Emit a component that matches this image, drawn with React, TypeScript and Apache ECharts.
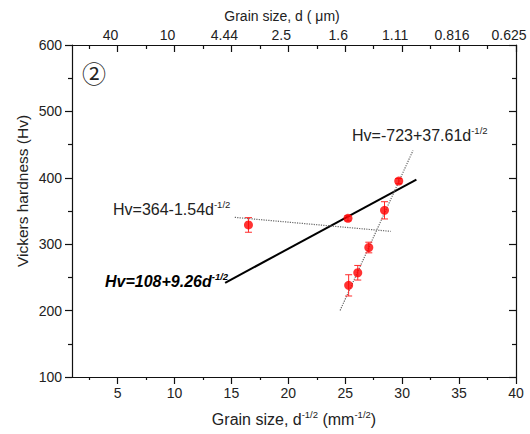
import React, { useEffect, useRef } from "react";
import * as echarts from "echarts";

// Measured hardness vs. grain size (d^-1/2 in mm^-1/2)
const grainSize = [16.5, 25.24, 25.3, 26.1, 27.07, 28.45, 29.7];
const hardness = [329, 339, 238, 257, 295, 351, 395];
const hardnessErr = [11, 4, 16, 11, 8, 13, 4];

// Hall-Petch fits: Hv = intercept + slope * d^-1/2, drawn over [start, end]
const fitIntercepts = [108, 364, -723];
const fitSlopes = [9.26, -1.54, 37.61];
const fitStart = [14.45, 15.3, 24.55];
const fitEnd = [31.25, 29.0, 30.95];

// Axis ticks
const majorTicks = [5, 10, 15, 20, 25, 30, 35, 40];
const minorTicks = [2.5, 7.5, 12.5, 17.5, 22.5, 27.5, 32.5, 37.5];
const topTickLabels = ["40", "10", "4.44", "2.5", "1.6", "1.11", "0.816", "0.625"];

const FONT = "'Liberation Sans', Arial, sans-serif";
const TEXT = "#222";
const AXIS = "#111";

function fitLine(i: number) {
  const a = fitIntercepts[i];
  const b = fitSlopes[i];
  return [
    [fitStart[i], a + b * fitStart[i]],
    [fitEnd[i], a + b * fitEnd[i]],
  ];
}

export default function App() {
  const ref = useRef<HTMLDivElement>(null);

  useEffect(() => {
    if (!ref.current) return;
    const chart = echarts.init(ref.current, null, { renderer: "svg" });

    const baseX = {
      type: "value" as const,
      min: 1,
      max: 40,
      splitLine: { show: false },
    };
    const baseY = {
      type: "value" as const,
      min: 100,
      max: 600,
      interval: 100,
      splitLine: { show: false },
    };
    const lineStyle = { color: AXIS, width: 1.2 };

    const supRich = {
      s: { fontSize: 9.5, verticalAlign: "top", fill: TEXT, fontFamily: FONT, lineHeight: 10 },
    };

    chart.setOption({
      animation: false,
      backgroundColor: "#fff",
      grid: { left: 72, right: 14, top: 45, bottom: 57 },
      xAxis: [
        {
          ...baseX,
          position: "bottom",
          axisLine: { show: true, lineStyle },
          axisTick: { show: true, customValues: majorTicks, length: 7, lineStyle },
          axisLabel: {
            customValues: majorTicks,
            margin: 9,
            fontSize: 14,
            color: TEXT,
            fontFamily: FONT,
          },
        },
        {
          ...baseX,
          position: "bottom",
          axisLine: { show: false },
          axisTick: { show: true, customValues: minorTicks, length: 3, lineStyle },
          axisLabel: { show: false },
        },
        {
          ...baseX,
          position: "top",
          axisLine: { show: true, lineStyle },
          axisTick: { show: true, inside: true, customValues: majorTicks, length: 7, lineStyle },
          axisLabel: {
            customValues: majorTicks,
            margin: 3,
            fontSize: 14,
            color: TEXT,
            fontFamily: FONT,
            padding: [0, 14, 0, 0],
            formatter: (v: number) => topTickLabels[majorTicks.indexOf(v)] ?? "",
          },
        },
        {
          ...baseX,
          position: "top",
          axisLine: { show: false },
          axisTick: { show: true, inside: true, customValues: minorTicks, length: 4, lineStyle },
          axisLabel: { show: false },
        },
      ],
      yAxis: [
        {
          ...baseY,
          position: "left",
          axisLine: { show: true, lineStyle },
          axisTick: { show: true, length: 7, lineStyle },
          minorTick: { show: true, splitNumber: 2, length: 4, lineStyle },
          axisLabel: { margin: 10, fontSize: 14, color: TEXT, fontFamily: FONT },
        },
        {
          ...baseY,
          position: "right",
          axisLine: { show: true, lineStyle },
          axisTick: { show: true, inside: true, length: 7, lineStyle },
          minorTick: { show: true, splitNumber: 2, length: 4, lineStyle },
          axisLabel: { show: false },
        },
      ],
      series: [
        {
          type: "line",
          data: fitLine(0),
          symbol: "none",
          lineStyle: { color: "#000", width: 2 },
          z: 2,
        },
        {
          type: "line",
          data: fitLine(1),
          symbol: "none",
          lineStyle: { color: "#666", width: 1.2, type: "dotted" },
          z: 2,
        },
        {
          type: "line",
          data: fitLine(2),
          symbol: "none",
          lineStyle: { color: "#666", width: 1.2, type: "dotted" },
          z: 2,
        },
        {
          type: "custom",
          z: 3,
          data: grainSize.map((x, i) => [x, hardness[i] - hardnessErr[i], hardness[i] + hardnessErr[i]]),
          encode: { x: 0, y: [1, 2] },
          renderItem: (_params: any, api: any) => {
            const x = api.value(0);
            const lo = api.coord([x, api.value(1)]);
            const hi = api.coord([x, api.value(2)]);
            const hw = 3.5;
            const style = { stroke: "#ff2a2a", lineWidth: 1 };
            return {
              type: "group",
              children: [
                { type: "line", shape: { x1: lo[0], y1: lo[1], x2: hi[0], y2: hi[1] }, style },
                { type: "line", shape: { x1: lo[0] - hw, y1: lo[1], x2: lo[0] + hw, y2: lo[1] }, style },
                { type: "line", shape: { x1: hi[0] - hw, y1: hi[1], x2: hi[0] + hw, y2: hi[1] }, style },
              ],
            };
          },
        },
        {
          type: "scatter",
          z: 4,
          data: grainSize.map((x, i) => [x, hardness[i]]),
          symbol: "circle",
          symbolSize: 9,
          itemStyle: { color: "#ff0000" },
        },
      ],
      graphic: [
        {
          type: "text",
          x: 282,
          y: 16,
          style: {
            text: "Grain size, d ( μm)",
            fontSize: 14,
            fontFamily: FONT,
            fill: TEXT,
            textAlign: "center",
            textVerticalAlign: "middle",
          },
        },
        {
          type: "text",
          x: 22,
          y: 191,
          rotation: Math.PI / 2,
          style: {
            text: "Vickers hardness (Hv)",
            fontSize: 15.5,
            fontFamily: FONT,
            fill: TEXT,
            textAlign: "center",
            textVerticalAlign: "middle",
          },
        },
        {
          type: "text",
          x: 294,
          y: 419,
          style: {
            text: "{m|Grain size, d}{s|-1/2}{m| (mm}{s|-1/2}{m|)}",
            textAlign: "center",
            textVerticalAlign: "middle",
            rich: {
              m: { fontSize: 16, fontFamily: FONT, fill: TEXT, lineHeight: 20 },
              ...supRich,
            },
          },
        },
        {
          type: "text",
          x: 352,
          y: 135,
          style: {
            text: "{m|Hv=-723+37.61d}{s|-1/2}",
            textAlign: "left",
            textVerticalAlign: "middle",
            rich: {
              m: { fontSize: 16, fontFamily: FONT, fill: TEXT, lineHeight: 19 },
              ...supRich,
            },
          },
        },
        {
          type: "text",
          x: 113,
          y: 209,
          style: {
            text: "{m|Hv=364-1.54d}{s|-1/2}",
            textAlign: "left",
            textVerticalAlign: "middle",
            rich: {
              m: { fontSize: 16, fontFamily: FONT, fill: TEXT, lineHeight: 19 },
              ...supRich,
            },
          },
        },
        {
          type: "text",
          x: 105,
          y: 281,
          style: {
            text: "{m|Hv=108+9.26d}{s|-1/2}",
            textAlign: "left",
            textVerticalAlign: "middle",
            rich: {
              m: {
                fontSize: 16,
                fontFamily: FONT,
                fontWeight: "bold",
                fontStyle: "italic",
                fill: "#000",
                lineHeight: 19,
              },
              s: {
                fontSize: 9.5,
                fontFamily: FONT,
                fontWeight: "bold",
                fontStyle: "italic",
                verticalAlign: "top",
                fill: "#000",
                lineHeight: 10,
              },
            },
          },
        },
        {
          type: "text",
          x: 94,
          y: 72,
          style: {
            text: "②",
            fontSize: 24,
            fontFamily: "'Noto Sans CJK SC', 'DejaVu Sans', sans-serif",
            fill: TEXT,
            textAlign: "center",
            textVerticalAlign: "middle",
          },
        },
      ],
    });

    return () => chart.dispose();
  }, []);

  return (
    <div
      ref={ref}
      style={{ position: "fixed", left: 0, top: 0, width: 530, height: 434, background: "#fff" }}
    />
  );
}
